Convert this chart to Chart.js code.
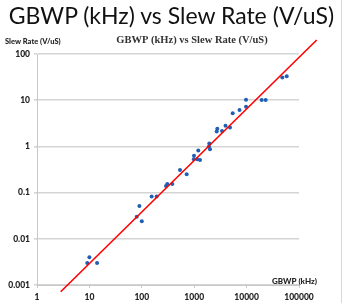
<!DOCTYPE html>
<html>
<head>
<meta charset="utf-8">
<script src="https://cdn.jsdelivr.net/npm/chart.js@4/dist/chart.umd.min.js"></script>
<style>
  html, body { margin: 0; padding: 0; background: #fff; }
  #wrap { position: relative; width: 343px; height: 303px; overflow: hidden; }
  #bigTitle {
    position: absolute; left: 0; top: 0; width: 343px; text-align: center;
    font-family: Lato, "Open Sans", sans-serif; font-size: 23px; line-height: 30px; color: #111;
    white-space: nowrap; z-index: 2;
  }
  #edge { position: absolute; left: 341px; top: 0; width: 1px; height: 303px; background: #d8d8d8; }
  canvas { position: absolute; left: 0; top: 0; }
</style>
</head>
<body>
<div id="wrap">
  <div id="bigTitle">GBWP (kHz) vs Slew Rate (V/uS)</div>
  <canvas id="chart" width="343" height="303"></canvas>
  <div id="edge"></div>
</div>
<script>
// GBWP in kHz and slew rate in V/uS
const gbwp = [10, 9.1, 14, 80, 90, 100, 154, 192, 290, 307, 382, 536, 719,
  983, 991, 1146, 1291, 1197, 1915, 1941, 2003, 2687, 2761, 3395, 3957, 4822,
  5430, 7325, 9745, 9745, 19400, 23160, 48000, 58200];
const slewRate = [0.004, 0.003, 0.003, 0.03, 0.051, 0.024, 0.082, 0.082, 0.139,
  0.153, 0.153, 0.31, 0.25, 0.53, 0.63, 0.53, 0.51, 0.82, 0.99, 1.16, 0.87,
  2.1, 2.4, 2.15, 2.8, 2.55, 5.2, 6.1, 7.2, 10.2, 10.1, 10.1, 31, 33];

// trend line end points (it runs past the plot area)
const trendX = [2.83, 217700];
const trendY = [0.000716, 201];

const xTicks = [1, 10, 100, 1000, 10000, 100000];
const yTicks = [0.001, 0.01, 0.1, 1, 10, 100];

const chartTitle = "GBWP (kHz) vs Slew Rate (V/uS)";
const xTitle = "GBWP (kHz)";
const yTitle = "Slew Rate (V/uS)";

const tickFont = { family: "Lato, 'Open Sans', sans-serif", size: 8.5, weight: "900" };

// draws the chart title and the two axis titles where the original has them
const titlesPlugin = {
  id: "titles",
  afterDraw(chart) {
    const ctx = chart.ctx;
    ctx.save();
    ctx.fillStyle = "#333";
    ctx.textBaseline = "middle";
    ctx.font = "bold 10.5px 'Liberation Serif', serif";
    ctx.textAlign = "center";
    ctx.fillText(chartTitle, 192, 40);
    ctx.fillStyle = "#222";
    ctx.font = "900 7.5px Lato, 'Open Sans', sans-serif";
    ctx.textAlign = "left";
    ctx.fillText(yTitle, 5, 42);
    ctx.font = "900 8px Lato, 'Open Sans', sans-serif";
    ctx.fillText(xTitle, 272, 281);
    ctx.restore();
  },
};

const points = gbwp.map((x, i) => ({ x: x, y: slewRate[i] }));
const trend = trendX.map((x, i) => ({ x: x, y: trendY[i] }));

new Chart(document.getElementById("chart"), {
  type: "scatter",
  data: {
    datasets: [
      {
        label: "Slew Rate",
        data: points,
        pointRadius: 2,
        pointHoverRadius: 2,
        pointBorderWidth: 0,
        backgroundColor: "#1f5fb4",
        borderColor: "#1f5fb4",
        order: 2,
      },
      {
        label: "Trend",
        data: trend,
        showLine: true,
        pointRadius: 0,
        borderColor: "#ff0000",
        borderWidth: 1.6,
        clip: false,
        order: 1,
      },
    ],
  },
  options: {
    responsive: false,
    devicePixelRatio: 1,
    animation: false,
    layout: { padding: { top: 54, left: 0, right: 44, bottom: 0 } },
    plugins: {
      legend: { display: false },
      title: { display: false },
      tooltip: { enabled: false },
    },
    scales: {
      x: {
        type: "logarithmic",
        min: 1,
        max: 100000,
        afterBuildTicks: (scale) => {
          scale.ticks = xTicks.map((v) => ({ value: v }));
        },
        afterFit: (scale) => {
          scale.height = 18;
        },
        ticks: {
          font: tickFont,
          color: "#222",
          padding: 4,
          maxRotation: 0,
          autoSkip: false,
          callback: (v) => String(v),
        },
        grid: { drawOnChartArea: false, drawTicks: true, tickLength: 3, color: "#c8c8c8" },
        border: { color: "#c8c8c8", width: 1 },
      },
      y: {
        type: "logarithmic",
        min: 0.001,
        max: 100,
        afterBuildTicks: (scale) => {
          scale.ticks = yTicks.map((v) => ({ value: v }));
        },
        afterFit: (scale) => {
          scale.width = 37;
        },
        ticks: {
          font: tickFont,
          color: "#222",
          padding: 4,
          autoSkip: false,
          callback: (v) => String(v),
        },
        grid: { color: "#d4d4d4", lineWidth: 1.6, tickLength: 3 },
        border: { color: "#c8c8c8", width: 1 },
      },
    },
  },
  plugins: [titlesPlugin],
});
</script>
</body>
</html>
